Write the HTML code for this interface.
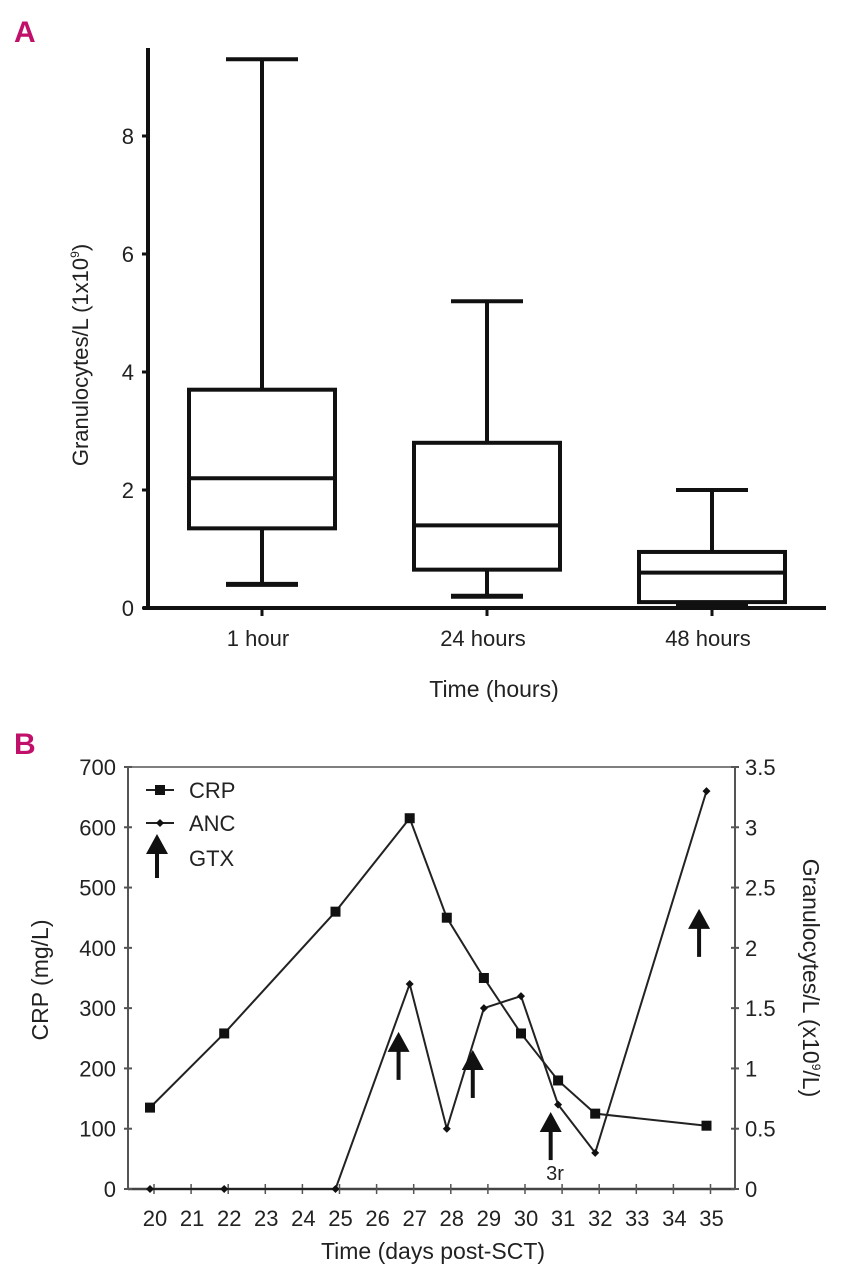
<!DOCTYPE html>
<html><head><meta charset="utf-8"><style>
body{margin:0;background:#fff}
svg{display:block}
text{font-family:"Liberation Sans Narrow","Liberation Sans",sans-serif;fill:#222}
</style></head><body>
<svg id="s" width="847" height="1280" xmlns="http://www.w3.org/2000/svg">
<text x="14" y="42" font-size="30" font-weight="bold" style="fill:#c0106a">A</text>
<text x="14" y="754" font-size="30" font-weight="bold" style="fill:#c0106a">B</text>
<g id="ga"></g><g id="gb"></g>
</svg>
<script>
// Panel A data
const boxCats=["1 hour","24 hours","48 hours"];
const boxMin=[0.4,0.2,0.03];
const boxQ1=[1.35,0.65,0.1];
const boxMed=[2.2,1.4,0.6];
const boxQ3=[3.7,2.8,0.95];
const boxMax=[9.3,5.2,2.0];
const aTicks=[0,2,4,6,8];
// Panel B data
const days=[20,22,25,27,28,29,30,31,32,35];
const crp=[135,258,460,615,450,350,258,180,125,105];
const anc=[0,0,0,1.7,0.5,1.5,1.6,0.7,0.3,3.3];
const gtxDays=[26.7,28.7,30.8,34.8];
const gtxCrpLevels=[181,151,48,385];
const xTickDays=[20,21,22,23,24,25,26,27,28,29,30,31,32,33,34,35];
const crpTicks=[0,100,200,300,400,500,600,700];
const ancTicks=["0","0.5","1","1.5","2","2.5","3","3.5"];

const NS="http://www.w3.org/2000/svg";
function el(p,t,a,txt){const e=document.createElementNS(NS,t);for(const k in a)e.setAttribute(k,a[k]);if(txt!==undefined)e.textContent=txt;p.appendChild(e);return e;}
const ga=document.getElementById('ga'),gb=document.getElementById('gb');

// ---- Panel A
const ay=v=>608-v*59;
const ax=i=>262+i*225;
let e=el(ga,'line',{x1:148,y1:48,x2:148,y2:610,stroke:'#111','stroke-width':4});


e=el(ga,'line',{x1:143,y1:608,x2:826,y2:608,stroke:'#111','stroke-width':4});


aTicks.forEach(v=>{
  el(ga,'line',{x1:142,y1:ay(v),x2:148,y2:ay(v),stroke:'#111','stroke-width':3});
  const t=el(ga,'text',{x:134,y:ay(v)+8,'font-size':22,'text-anchor':'end'},String(v));
  
  
});
boxCats.forEach((c,i)=>{
  const cx=ax(i);
  el(ga,'line',{x1:cx,y1:608,x2:cx,y2:616,stroke:'#111','stroke-width':3});
  const t=el(ga,'text',{x:cx-4,y:646,'font-size':22,'text-anchor':'middle'},c);
  
  
  const g=el(ga,'g',{stroke:'#111','stroke-width':4,fill:'none'});
  
  
  el(g,'line',{x1:cx,y1:ay(boxMax[i]),x2:cx,y2:ay(boxQ3[i])});
  el(g,'line',{x1:cx,y1:ay(boxQ1[i]),x2:cx,y2:ay(boxMin[i])});
  el(g,'line',{x1:cx-36,y1:ay(boxMax[i]),x2:cx+36,y2:ay(boxMax[i])});
  el(g,'line',{x1:cx-36,y1:ay(boxMin[i]),x2:cx+36,y2:ay(boxMin[i]),'stroke-width':5});
  el(g,'rect',{x:cx-73,y:ay(boxQ3[i]),width:146,height:ay(boxQ1[i])-ay(boxQ3[i])});
  el(g,'line',{x1:cx-73,y1:ay(boxMed[i]),x2:cx+73,y2:ay(boxMed[i])});
});
e=el(ga,'text',{x:494,y:697,'font-size':23,'text-anchor':'middle'},'Time (hours)');


e=el(ga,'text',{transform:'translate(88,355) rotate(-90)','font-size':22,'text-anchor':'middle'});
e.innerHTML='Granulocytes/L  (1x10<tspan font-size="12" dy="-9">9</tspan><tspan dy="9">)</tspan>';



// ---- Panel B
const bx=d=>150+(d-20)*37.1;
const by=v=>1189-v*0.6029;
const by2=v=>1189-v*120.57;
e=el(gb,'line',{x1:128,y1:767,x2:735,y2:767,stroke:'#555','stroke-width':1.5});


e=el(gb,'line',{x1:128,y1:767,x2:128,y2:1190,stroke:'#555','stroke-width':2});


e=el(gb,'line',{x1:735,y1:767,x2:735,y2:1190,stroke:'#555','stroke-width':2});


e=el(gb,'line',{x1:128,y1:1189,x2:735,y2:1189,stroke:'#444','stroke-width':2.5});


crpTicks.forEach(v=>{
  el(gb,'line',{x1:124,y1:by(v),x2:132,y2:by(v),stroke:'#555','stroke-width':2});
  const t=el(gb,'text',{x:116,y:by(v)+8,'font-size':22,'text-anchor':'end'},String(v));
  
  
});
ancTicks.forEach(s=>{
  const y=by2(parseFloat(s));
  el(gb,'line',{x1:731,y1:y,x2:739,y2:y,stroke:'#555','stroke-width':2});
  const t=el(gb,'text',{x:745,y:y+8,'font-size':22},s);
  
  
});
xTickDays.forEach(d=>{
  el(gb,'line',{x1:bx(d)+4,y1:1184,x2:bx(d)+4,y2:1194,stroke:'#555','stroke-width':1.5});
  const t=el(gb,'text',{x:bx(d)+5,y:1226,'font-size':22,'text-anchor':'middle'},String(d));
  
  
});
e=el(gb,'polyline',{points:days.map((d,i)=>bx(d)+','+by(crp[i])).join(' '),fill:'none',stroke:'#222','stroke-width':2});


e=el(gb,'polyline',{points:days.map((d,i)=>bx(d)+','+by2(anc[i])).join(' '),fill:'none',stroke:'#222','stroke-width':2});


days.forEach((d,i)=>{
  const m=el(gb,'rect',{x:bx(d)-5,y:by(crp[i])-5,width:10,height:10,fill:'#111'});
  
  
  const x=bx(d),y=by2(anc[i]);
  const p=el(gb,'polygon',{points:`${x},${y-4} ${x+4},${y} ${x},${y+4} ${x-4},${y}`,fill:'#111'});
  
  
});
function arrow(x,yb,len,name){
  const g=el(gb,'g',{fill:'#111',stroke:'#111'});
  
  
  el(g,'line',{x1:x,y1:yb,x2:x,y2:yb-len+14,'stroke-width':4});
  el(g,'polygon',{points:`${x},${yb-len} ${x-11},${yb-len+20} ${x+11},${yb-len+20}`,stroke:'none'});
}
gtxDays.forEach((d,i)=>{
  arrow(bx(d),by(gtxCrpLevels[i]),48,'gtx-arrow');
});
e=el(gb,'text',{x:555,y:1180,'font-size':20,'text-anchor':'middle'},'3r');


// legend
e=el(gb,'g',{});


el(e,'line',{x1:146,y1:790,x2:174,y2:790,stroke:'#222','stroke-width':2});
el(e,'rect',{x:155,y:785,width:10,height:10,fill:'#111'});
el(e,'text',{x:189,y:798,'font-size':22},'CRP');
el(e,'line',{x1:146,y1:823,x2:174,y2:823,stroke:'#222','stroke-width':2});
el(e,'polygon',{points:'160,819 164,823 160,827 156,823',fill:'#111'});
el(e,'text',{x:189,y:831,'font-size':22},'ANC');
el(e,'text',{x:189,y:866,'font-size':22},'GTX');
arrow(157,878,44,'legend-gtx-arrow');
e=el(gb,'text',{x:433,y:1259,'font-size':23,'text-anchor':'middle'},'Time (days post-SCT)');


e=el(gb,'text',{transform:'translate(48,980) rotate(-90)','font-size':23,'text-anchor':'middle'},'CRP  (mg/L)');


e=el(gb,'text',{transform:'translate(803,978) rotate(90)','font-size':23,'text-anchor':'middle'});
e.innerHTML='Granulocytes/L  (x10<tspan font-size="12" dy="-9">9</tspan><tspan dy="9">/L)</tspan>';


</script>
</body></html>
